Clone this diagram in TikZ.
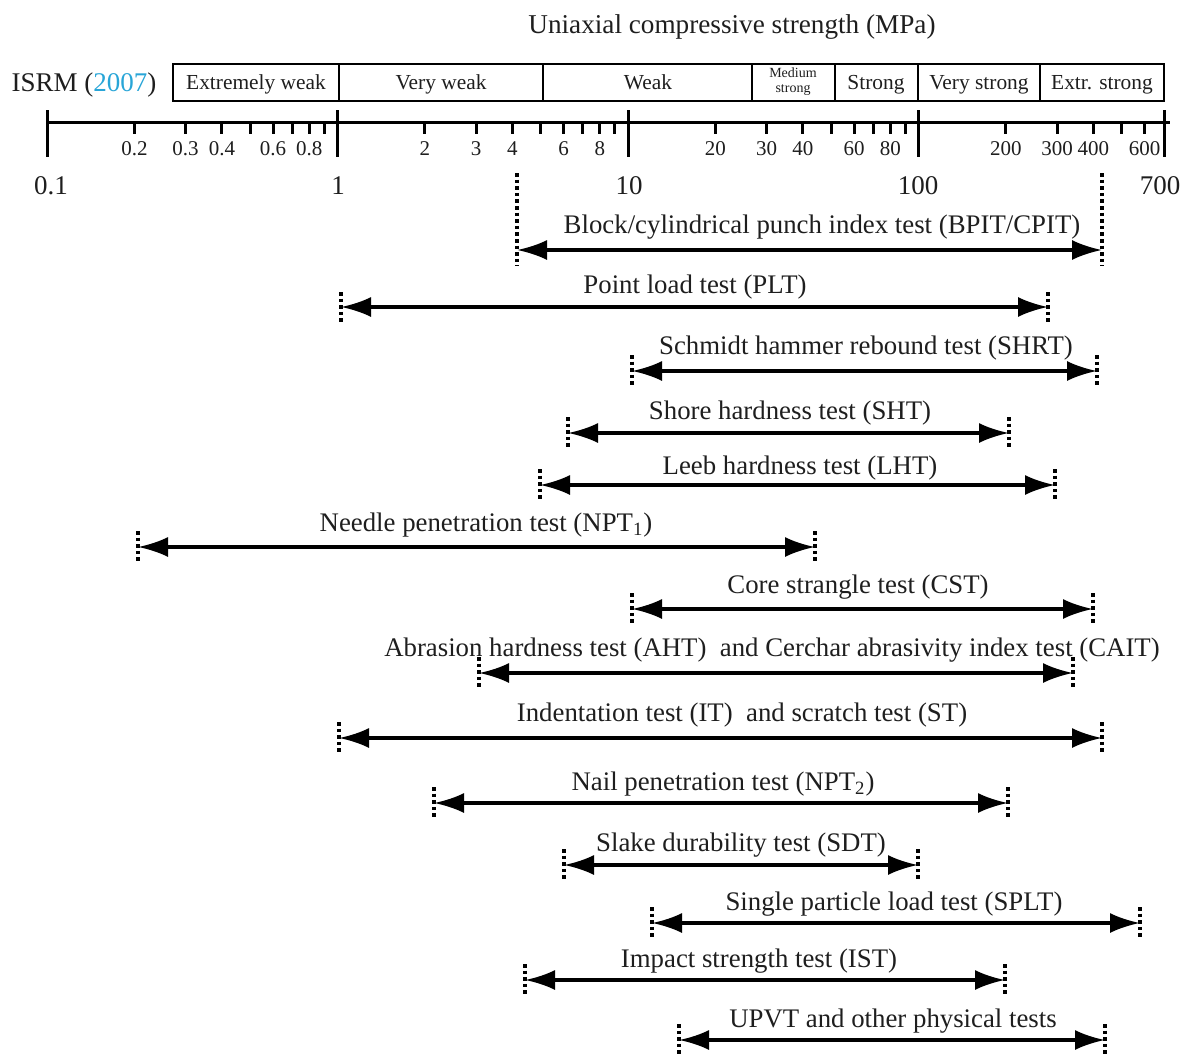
\documentclass[tikz,border=0pt]{standalone}
\usepackage{fontspec}
\setmainfont{Liberation Serif}
\usetikzlibrary{arrows.meta}
\definecolor{citeblue}{RGB}{40,165,215}
\definecolor{txt}{RGB}{30,30,30}
\newcommand\testrng[8]{% name, xl, xr, y, dotted top, text x, text baseline, text
  \coordinate (#1L) at (#2,#4);
  \coordinate (#1R) at (#3,#4);
  \draw[lim] (#2,#5) -- (#2,#4+16);
  \draw[lim] (#3,#5) -- (#3,#4+16);
  \draw[rng] (#1L) -- (#1R);
  \node[tlabel] (#1T) at (#6,#7+1) {#8};
}
\begin{document}
\begin{tikzpicture}[x=0.5pt,y=-0.5pt,
  axisln/.style={line width=1.5pt},
  boxln/.style={line width=1.2pt},
  rng/.style={line width=1.7pt,{Latex[length=15pt,width=10pt]}-{Latex[length=15pt,width=10pt]}},
  lim/.style={line width=1.6pt,dash pattern=on 1.8pt off 1.5pt},
  tlabel/.style={font=\fontsize{13.4}{15}\selectfont,text=txt,inner sep=0pt,anchor=base},
  minlab/.style={font=\fontsize{10.5}{12}\selectfont,text=txt,inner sep=0pt,anchor=base},
  majlab/.style={font=\fontsize{13.5}{15}\selectfont,text=txt,inner sep=0pt,anchor=base},
  boxlab/.style={font=\fontsize{10.7}{12}\selectfont,text=txt,inner sep=0pt,anchor=base}]
\useasboundingbox (0,0) rectangle (1184,1055);

% title
\node[tlabel,font=\fontsize{13.6}{15}\selectfont] (title) at (732,33) {Uniaxial compressive strength (MPa)};
\node[majlab] (isrm) at (84,91) {ISRM (\textcolor{citeblue}{2007})};

% classification box
\draw[boxln] (173,64) rectangle (1164,101);
\foreach \xd in {339,543,752,835,918,1040} \draw[boxln] (\xd,64) -- (\xd,101);
\node[boxlab] (c1) at (256,89) {Extremely weak};
\node[boxlab] (c2) at (441,89) {Very weak};
\node[boxlab] (c3) at (648,89) {Weak};
\node[font=\fontsize{7}{7.5}\selectfont,text=txt,inner sep=0pt,align=center] (c4) at (793,82) {Medium\\strong};
\node[boxlab] (c5) at (876,89) {Strong};
\node[boxlab] (c6) at (979,89) {Very strong};
\node[boxlab] (c7) at (1102,89) {Extr. strong};

% axis
\draw[axisln] (47,122) -- (1170,122);
\foreach \v in {0.1,1,10,100,700}{
  \pgfmathsetmacro\xx{47+290.5*(log10(\v)+1)}
  \draw[axisln] (\xx,110) -- (\xx,157);
}
\node[majlab] (m01) at (51,194) {0.1};
\node[majlab] (m1) at (338,194) {1};
\node[majlab] (m10) at (629,194) {10};
\node[majlab] (m100) at (918,194) {100};
\node[majlab] (m700) at (1160,194) {700};
\foreach \v in {0.2,0.3,0.4,0.5,0.6,0.7,0.8,0.9,2,3,4,5,6,7,8,9,20,30,40,50,60,70,80,90,200,300,400,500,600}{
  \pgfmathsetmacro\xx{47+290.5*(log10(\v)+1)}
  \draw[axisln] (\xx,122) -- (\xx,134);
}
\foreach \v in {0.2,0.3,0.4,0.6,0.8,2,3,4,6,8,20,30,40,60,80,200,300,400,600}{
  \pgfmathsetmacro\xx{47+290.5*(log10(\v)+1)}
  \node[minlab] (n\v) at (\xx,155) {\v};
}

% test ranges
\testrng{bp}{517}{1102}{250}{173}{822}{232}{Block/cylindrical punch index test (BPIT/CPIT)}
\testrng{pl}{341}{1048}{307}{292}{695}{292}{Point load test (PLT)}
\testrng{sh}{632}{1097}{371}{355}{866}{353}{Schmidt hammer rebound test (SHRT)}
\testrng{sht}{568}{1009}{433}{417}{790}{418}{Shore hardness test (SHT)}
\testrng{lh}{540}{1055}{485}{469}{800}{473}{Leeb hardness test (LHT)}
\testrng{np}{138}{815}{547}{531}{486}{530}{Needle penetration test (NPT\textsubscript{1})}
\testrng{cs}{632}{1093}{609}{593}{858}{592}{Core strangle test (CST)}
\testrng{ah}{479}{1073}{673}{657}{772}{655}{Abrasion hardness test (AHT) \ and Cerchar abrasivity index test (CAIT)}
\testrng{it}{339}{1102}{738}{722}{742}{720}{Indentation test (IT) \ and scratch test (ST)}
\testrng{npb}{434}{1008}{803}{787}{723}{789}{Nail penetration test (NPT\textsubscript{2})}
\testrng{sd}{564}{918}{865}{849}{741}{850}{Slake durability test (SDT)}
\testrng{sp}{652}{1140}{923}{907}{894}{909}{Single particle load test (SPLT)}
\testrng{is}{525}{1005}{980}{964}{759}{966}{Impact strength test (IST)}
\testrng{up}{679}{1105}{1040}{1024}{893}{1026}{UPVT and other physical tests}
\end{tikzpicture}
\end{document}
